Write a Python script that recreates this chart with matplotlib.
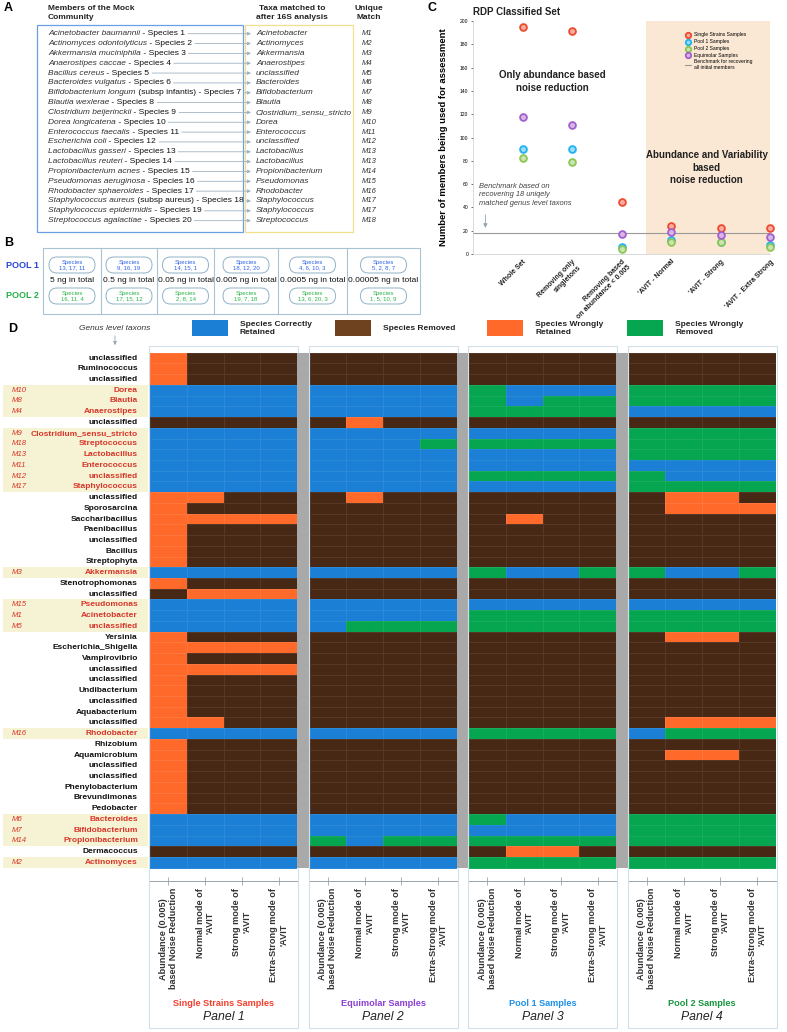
import matplotlib
matplotlib.use("Agg")
import matplotlib.pyplot as plt
import numpy as np
from matplotlib import transforms
from matplotlib.colors import ListedColormap, to_rgb
from matplotlib.patches import Rectangle, FancyBboxPatch

plt.rcParams["font.family"] = ["Liberation Sans", "DejaVu Sans"]

W, H = 787, 1032

# ---- panel A : mock community -> genus level match
mock_species = ["Acinetobacter baumannii", "Actinomyces odontolyticus", "Akkermansia muciniphila",
                "Anaerostipes caccae", "Bacillus cereus", "Bacteroides vulgatus",
                "Bifidobacterium longum", "Blautia wexlerae", "Clostridium beijerinckii",
                "Dorea longicatena", "Enterococcus faecalis", "Escherichia coli",
                "Lactobacillus gasseri", "Lactobacillus reuteri", "Propionibacterium acnes",
                "Pseudomonas aeruginosa", "Rhodobacter sphaeroides", "Staphylococcus aureus",
                "Staphylococcus epidermidis", "Streptococcus agalactiae"]
mock_subsp = {6: " (subsp infantis)", 17: " (subsp aureus)"}
matched_taxa = ["Acinetobacter", "Actinomyces", "Akkermansia", "Anaerostipes", "unclassified",
                "Bacteroides", "Bifidobacterium", "Blautia", "Clostridium_sensu_stricto", "Dorea",
                "Enterococcus", "unclassified", "Lactobacillus", "Lactobacillus", "Propionibacterium",
                "Pseudomonas", "Rhodobacter", "Staphylococcus", "Staphylococcus", "Streptococcus"]
unique_match = ["M1", "M2", "M3", "M4", "M5", "M6", "M7", "M8", "M9", "M10", "M11", "M12",
                "M13", "M13", "M14", "M15", "M16", "M17", "M17", "M18"]

# ---- panel B : pools
pool1_species = ["13, 17, 11", "9, 16, 19", "14, 15, 1", "18, 12, 20", "4, 6, 10, 3", "5, 2, 8, 7"]
pool2_species = ["16, 11, 4", "17, 15, 12", "2, 8, 14", "19, 7, 18", "13, 6, 20, 3", "1, 5, 10, 9"]
pool_amounts = ["5 ng in total", "0.5 ng in total", "0.05 ng in total", "0.005 ng in total",
                "0.0005 ng in total", "0.00005 ng in total"]

# ---- panel C : members used for assessment
steps = ["Whole Set", "Removing only\nsingletons", "Removing based\non abundance < 0.005",
         "'AVIT - Normal", "'AVIT - Strong", "'AVIT - Extra Strong"]
single_strains = [195, 191, 45, 24, 22, 22]
pool1_members = [90, 90, 6, 12, 10, 8]
pool2_members = [82, 79, 4, 10, 10, 6]
equimolar_members = [118, 111, 17, 19, 16, 15]
benchmark = 18

# ---- panel D : genus level taxa, B=correctly retained, R=removed, O=wrongly retained, G=wrongly removed
genus_taxa = ["unclassified", "Ruminococcus", "unclassified", "Dorea", "Blautia", "Anaerostipes",
              "unclassified", "Clostridium_sensu_stricto", "Streptococcus", "Lactobacillus",
              "Enterococcus", "unclassified", "Staphylococcus", "unclassified", "Sporosarcina",
              "Saccharibacillus", "Paenibacillus", "unclassified", "Bacillus", "Streptophyta",
              "Akkermansia", "Stenotrophomonas", "unclassified", "Pseudomonas", "Acinetobacter",
              "unclassified", "Yersinia", "Escherichia_Shigella", "Vampirovibrio", "unclassified",
              "unclassified", "Undibacterium", "unclassified", "Aquabacterium", "unclassified",
              "Rhodobacter", "Rhizobium", "Aquamicrobium", "unclassified", "unclassified",
              "Phenylobacterium", "Brevundimonas", "Pedobacter", "Bacteroides", "Bifidobacterium",
              "Propionibacterium", "Dermacoccus", "Actinomyces"]
genus_match = ["", "", "", "M10", "M8", "M4", "", "M9", "M18", "M13", "M11", "M12", "M17",
               "", "", "", "", "", "", "", "M3", "", "", "M15", "M1", "M5", "", "", "", "", "",
               "", "", "", "", "M16", "", "", "", "", "", "", "", "M6", "M7", "M14", "", "M2"]
single_strain_calls = ["ORRR", "ORRR", "ORRR", "BBBB", "BBBB", "BBBB", "RRRR", "BBBB", "BBBB",
                       "BBBB", "BBBB", "BBBB", "BBBB", "OORR", "ORRR", "OOOO", "ORRR", "ORRR",
                       "ORRR", "ORRR", "BBBB", "ORRR", "ROOO", "BBBB", "BBBB", "BBBB", "ORRR",
                       "OOOO", "ORRR", "OOOO", "ORRR", "ORRR", "ORRR", "ORRR", "OORR", "BBBB",
                       "ORRR", "ORRR", "ORRR", "ORRR", "ORRR", "ORRR", "ORRR", "BBBB", "BBBB",
                       "BBBB", "RRRR", "BBBB"]
equimolar_calls = ["RRRR", "RRRR", "RRRR", "BBBB", "BBBB", "BBBB", "RORR", "BBBB", "BBBG",
                   "BBBB", "BBBB", "BBBB", "BBBB", "RORR", "RRRR", "RRRR", "RRRR", "RRRR",
                   "RRRR", "RRRR", "BBBB", "RRRR", "RRRR", "BBBB", "BBBB", "BGGG", "RRRR",
                   "RRRR", "RRRR", "RRRR", "RRRR", "RRRR", "RRRR", "RRRR", "RRRR", "BBBB",
                   "RRRR", "RRRR", "RRRR", "RRRR", "RRRR", "RRRR", "RRRR", "BBBB", "BBBB",
                   "GBGG", "RRRR", "BBBB"]
pool1_calls = ["RRRR", "RRRR", "RRRR", "GBBB", "GBGG", "GGGG", "RRRR", "BBBB", "GGGG",
               "BBBB", "BBBB", "GGGG", "BBBB", "RRRR", "RRRR", "RORR", "RRRR", "RRRR",
               "RRRR", "RRRR", "GBBG", "RRRR", "RRRR", "BBBB", "GGGG", "GGGG", "RRRR",
               "RRRR", "RRRR", "RRRR", "RRRR", "RRRR", "RRRR", "RRRR", "RRRR", "GGGG",
               "RRRR", "RRRR", "RRRR", "RRRR", "RRRR", "RRRR", "RRRR", "GBBB", "BBBB",
               "GGGG", "ROOR", "GGGG"]
pool2_calls = ["RRRR", "RRRR", "RRRR", "GGGG", "GGGG", "BBBB", "RRRR", "GGGG", "GGGG",
               "GGGG", "BBBB", "GBBB", "GGGG", "ROOR", "ROOO", "RRRR", "RRRR", "RRRR",
               "RRRR", "RRRR", "GBBG", "RRRR", "RRRR", "BBBB", "GGGG", "GGGG", "ROOR",
               "RRRR", "RRRR", "RRRR", "RRRR", "RRRR", "RRRR", "RRRR", "ROOO", "BGGG",
               "RRRR", "ROOR", "RRRR", "RRRR", "RRRR", "RRRR", "RRRR", "GGGG", "GGGG",
               "GGGG", "RRRR", "GGGG"]
method_labels = ["Abundance (0.005)\nbased Noise Reduction", "Normal mode of\n'AVIT",
                 "Strong mode of\n'AVIT", "Extra-Strong mode of\n'AVIT"]
sample_groups = ["Single Strains Samples", "Equimolar Samples", "Pool 1 Samples", "Pool 2 Samples"]

blue_c, brown_c, orange_c, green_c = "#1b80d5", "#472815", "#ff6a2b", "#05a64f"
group_colors = ["#f2402e", "#8c3fd0", "#1e90ea", "#17963f"]
red_txt = "#d8352a"
pale = "#f5f3d3"

fig = plt.figure(figsize=(W / 100, H / 100), dpi=100)


def px_axes(left, top, right, bottom):
    return fig.add_axes([left / W, 1 - bottom / H, (right - left) / W, (bottom - top) / H])


ov = px_axes(0, 0, W, H)
ov.set_xlim(0, W)
ov.set_ylim(H, 0)
ov.axis("off")

# ================= A
ov.text(4, 8, "A", fontsize=9, fontweight="bold", va="center")
ov.text(48, 13, "Members of the Mock\nCommunity", fontsize=6, fontweight="bold", va="center",
        color="#222", linespacing=1.25)
ov.text(292, 13, "Taxa matched to\nafter 16S analysis", fontsize=6, fontweight="bold", va="center",
        ha="center", color="#222", linespacing=1.25)
ov.text(369, 13, "Unique\nMatch", fontsize=6, fontweight="bold", va="center", ha="center",
        color="#222", linespacing=1.25)
ov.add_patch(Rectangle((37, 25), 206, 207, fill=False, ec="#6b9fe3", lw=0.9))
ov.add_patch(Rectangle((245, 25), 108, 207, fill=False, ec="#f3df8c", lw=0.9))
for i, name in enumerate(mock_species):
    y = 33.7 + i * 9.84
    t1 = ov.text(48, y, name, fontsize=6, style="italic", va="center", color="#333")
    t2 = ov.annotate(mock_subsp.get(i, "") + " - Species %d" % (i + 1), xy=(1, 0), xycoords=t1,
                     va="bottom", ha="left", fontsize=6.1, color="#111")
    ov.annotate("", xy=(251, y), xycoords="data", xytext=(1, 0.5), textcoords=t2,
                arrowprops=dict(arrowstyle="-|>", color="#9fb3c2", lw=0.6, shrinkA=2, shrinkB=0,
                                mutation_scale=5))
    ov.text(256, y, matched_taxa[i], fontsize=6, style="italic", va="center", color="#333")
    ov.text(362, y, unique_match[i], fontsize=5.5, style="italic", va="center", color="#333")

# ================= B
ov.text(4, 243, "B", fontsize=9, fontweight="bold", va="center")
col_edges = [43, 101, 157, 214, 278, 347, 420]
ov.add_patch(Rectangle((43, 248), 377, 66, fill=False, ec="#a9c3d2", lw=0.8))
for xe in col_edges[1:-1]:
    ov.plot([xe, xe], [248, 314], color="#a9c3d2", lw=0.8)
ov.text(22, 266, "POOL 1", fontsize=6.5, fontweight="bold", color="#2a45d6", ha="center", va="center")
ov.text(22, 296, "POOL 2", fontsize=6.5, fontweight="bold", color="#27b04b", ha="center", va="center")
for j in range(6):
    xc = (col_edges[j] + col_edges[j + 1]) / 2
    for yc, sp, col in [(265, pool1_species[j], "#2f63e6"), (296, pool2_species[j], "#2cb34a")]:
        ov.add_patch(FancyBboxPatch((xc - 23, yc - 8), 46, 16,
                                    boxstyle="round,pad=0,rounding_size=8",
                                    fc="white", ec="#8fb2c8", lw=0.7))
        ov.text(xc, yc, "Species\n" + sp, fontsize=4.3, ha="center", va="center", color=col,
                linespacing=1.1)
    ov.text(xc, 280.5, pool_amounts[j], fontsize=6, ha="center", va="center", color="#111")

# ================= C
ov.text(428, 8, "C", fontsize=9, fontweight="bold", va="center")
axc = px_axes(473, 21, 770, 254)
xs = np.arange(len(steps))
axc.axvspan(2.5, 5.2, color="#fbe8d4", lw=0, zorder=0)
axc.axhline(benchmark, color="#9a9a9a", lw=0.8, zorder=1)


def tint(c, f=0.55):
    r = np.array(to_rgb(c))
    return tuple(r + (1 - r) * f)


series = [("Single Strains Samples", single_strains, "#ee4a2e"),
          ("Pool 1 Samples", pool1_members, "#1fb3f2"),
          ("Pool 2 Samples", pool2_members, "#8cc653"),
          ("Equimolar Samples", equimolar_members, "#a35fcb")]
for lab, vals, c in series:
    axc.scatter(xs, vals, s=24, facecolor=tint(c), edgecolor=c, lw=1.3, label=lab,
                clip_on=False, zorder=3)
axc.plot([], [], color="#9a9a9a", lw=0.8, label="Benchmark for recovering\nall initial members")
axc.set_xlim(-1, 5)
axc.set_ylim(0, 200)
axc.set_yticks(np.arange(0, 201, 20))
axc.tick_params(axis="y", labelsize=3.6, length=1.5, width=0.4, pad=2)
axc.set_xticks(xs)
axc.set_xticklabels(steps, rotation=45, ha="right", rotation_mode="anchor", fontsize=5,
                    fontweight="bold", color="#222")
axc.tick_params(axis="x", length=0, pad=3)
for s in ["top", "right"]:
    axc.spines[s].set_visible(False)
for s in ["left", "bottom"]:
    axc.spines[s].set_color("#cccccc")
    axc.spines[s].set_linewidth(0.5)
axc.set_ylabel("Number of members being used for assessment", fontsize=6.8, fontweight="bold")
axc.yaxis.set_label_coords(-0.085, 0.5)
axc.set_title("RDP Classified Set", loc="left", fontsize=7, fontweight="bold", pad=4, color="#222")
axc.text(0.6, 148, "Only abundance based\nnoise reduction", fontsize=7, fontweight="bold",
         ha="center", va="center", color="#222", linespacing=1.3)
axc.text(3.72, 74, "Abundance and Variability\nbased\nnoise reduction", fontsize=7,
         fontweight="bold", ha="center", va="center", color="#222", linespacing=1.3)
axc.text(-0.87, 61, "Benchmark based on\nrecovering 18 uniqely\nmatched genus level taxons",
         fontsize=5.4, style="italic", ha="left", va="top", color="#444", linespacing=1.3)
axc.annotate("", xy=(-0.75, 20), xytext=(-0.75, 36),
             arrowprops=dict(arrowstyle="-|>", color="#8ea4b4", lw=0.6, mutation_scale=6))
axc.legend(loc="upper left", bbox_to_anchor=(0.7, 0.97), frameon=False, fontsize=3.6,
           handlelength=1.2, handletextpad=0.6, labelspacing=0.35, markerscale=0.8)

# ================= D
ov.text(8, 329, "D", fontsize=9, fontweight="bold", va="center")
ov.text(115, 328, "Genus level taxons", fontsize=6, style="italic", ha="center", va="center",
        color="#333")
ov.annotate("", xy=(115, 348), xytext=(115, 333),
            arrowprops=dict(arrowstyle="-|>", color="#9aa5ad", lw=0.6, mutation_scale=5))
legend_items = [(192, blue_c, "Species Correctly\nRetained"),
                (335, "#6e421f", "Species Removed"),
                (487, orange_c, "Species Wrongly\nRetained"),
                (627, green_c, "Species Wrongly\nRemoved")]
for xl, c, lab in legend_items:
    ov.add_patch(Rectangle((xl, 320), 36, 16, color=c, lw=0))
    ov.text(xl + 48, 328, lab, fontsize=6, fontweight="bold", va="center", color="#222",
            linespacing=1.2)

code_map = {"B": 0, "R": 1, "O": 2, "G": 3}
cmap = ListedColormap([blue_c, brown_c, orange_c, green_c])
panels = [single_strain_calls, equimolar_calls, pool1_calls, pool2_calls]
n_rows = len(genus_taxa)
row_top, row_bot, axis_line = 352.7, 867.7, 881
row_h = (row_bot - row_top) / n_rows
extra = (axis_line - row_bot) / row_h
pw, step = 147, 159.5
axes_d = []
for k, calls in enumerate(panels):
    left = 150 + k * step
    ov.add_patch(Rectangle((left - 1, 346), pw + 2, 682, fill=False, ec="#cfe0ea", lw=0.8))
    if k < 3:
        ov.add_patch(Rectangle((left + pw, row_top), step - pw, row_bot - row_top,
                               color="#a9a9a9", lw=0))
    ax = px_axes(left, row_top, left + pw, axis_line)
    grid = np.array([[code_map[ch] for ch in r] for r in calls])
    ax.pcolormesh(np.arange(5), np.arange(n_rows + 1), grid, cmap=cmap, vmin=-0.5, vmax=3.5,
                  edgecolors=(1, 1, 1, 0.08), linewidth=0.6)
    ax.set_xlim(0, 4)
    ax.set_ylim(n_rows + extra, 0)
    ax.set_yticks([])
    ax.set_xticks(np.arange(4) + 0.5)
    ax.set_xticklabels(method_labels, rotation=90, ha="center", va="top", fontsize=6.6,
                       fontweight="bold", color="#333", multialignment="center",
                       linespacing=1.15)
    ax.tick_params(axis="x", direction="inout", length=6, width=0.6, color="#9aa4aa", pad=2)
    for s in ["top", "left", "right"]:
        ax.spines[s].set_visible(False)
    ax.spines["bottom"].set_color("#9aa4aa")
    ax.spines["bottom"].set_linewidth(0.7)
    ov.text(left + pw / 2, 1003, sample_groups[k], fontsize=6.6, fontweight="bold",
            color=group_colors[k], ha="center", va="center")
    ov.text(left + pw / 2, 1017.5, "Panel %d" % (k + 1), fontsize=8.8, style="italic",
            color="#222", ha="center", va="center")
    axes_d.append(ax)

ax1 = axes_d[0]
blend = transforms.blended_transform_factory(ax1.transAxes, ax1.transData)
for i, name in enumerate(genus_taxa):
    m = genus_match[i]
    if m:
        ax1.add_patch(Rectangle((-1.0, i), 0.986, 1, transform=blend, clip_on=False,
                                color=pale, lw=0, zorder=0))
        ax1.text(-0.94, i + 0.5, m, transform=blend, fontsize=5.6, style="italic",
                 color=red_txt, va="center", ha="left", clip_on=False)
    ax1.text(-0.082, i + 0.5, name, transform=blend, fontsize=6, fontweight="bold",
             color=red_txt if m else "#111", va="center", ha="right", clip_on=False)

fig.savefig("out.png", dpi=100)
